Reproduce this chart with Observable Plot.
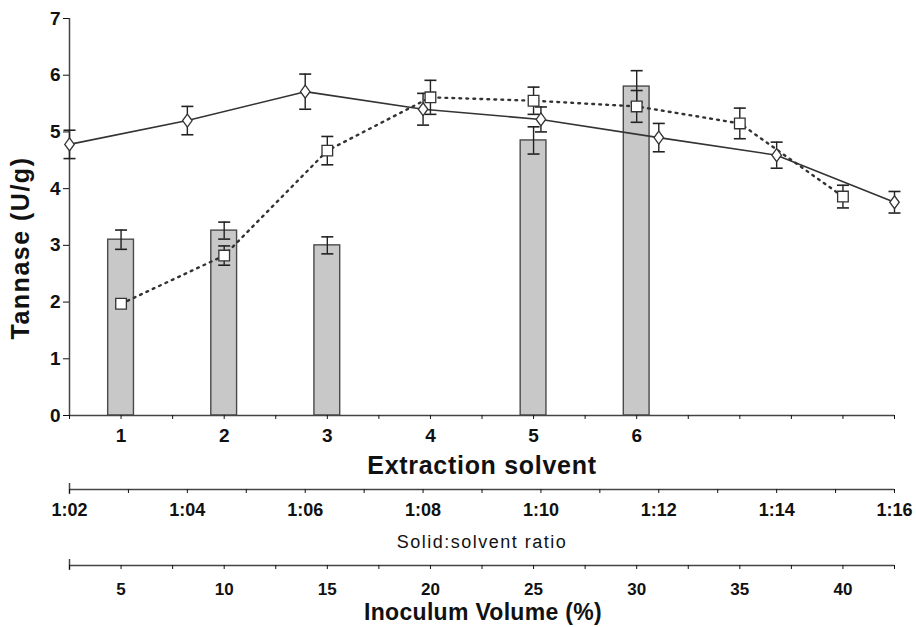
<!DOCTYPE html>
<html><head><meta charset="utf-8">
<script src="https://cdn.jsdelivr.net/npm/d3@7"></script>
<script src="https://cdn.jsdelivr.net/npm/@observablehq/plot@0.6"></script>
<style>
body{margin:0;background:#fff;}
#wrap{position:relative;width:916px;height:627px;overflow:hidden;background:#fff;}
.layer{position:absolute;left:0;}
.title{position:absolute;white-space:nowrap;line-height:1;color:#111;font-family:"Liberation Sans",Arial,sans-serif;transform:translate(-50%,-50%);}
</style></head><body>
<div id="wrap"></div>
<script>
// ---- data ----
const solventCats = [1, 2, 3, 4, 5, 6];
const solventTannase = [3.10, 3.26, 3.00, null, 4.85, 5.80];
const solventErr = [0.17, 0.15, 0.15, null, 0.24, 0.28];
const solventTickLabels = ["1", "2", "3", "4", "5", "6"];

const ratioVals = [2, 4, 6, 8, 10, 12, 14, 16];
const ratioTannase = [4.78, 5.20, 5.71, 5.40, 5.22, 4.90, 4.59, 3.76];
const ratioErr = [0.25, 0.25, 0.31, 0.28, 0.22, 0.25, 0.23, 0.19];
const ratioTickLabels = ["1:02", "1:04", "1:06", "1:08", "1:10", "1:12", "1:14", "1:16"];

const inocVals = [5, 10, 15, 20, 25, 30, 35, 40];
const inocTannase = [1.97, 2.82, 4.67, 5.61, 5.55, 5.45, 5.15, 3.86];
const inocErr = [0.05, 0.17, 0.25, 0.30, 0.24, 0.28, 0.27, 0.20];
const inocTickLabels = ["5", "10", "15", "20", "25", "30", "35", "40"];

const yTicks = [0, 1, 2, 3, 4, 5, 6, 7];

// ---- axis domains ----
const solventDomain = [0.5, 8.5];
const ratioDomain = [2, 16];
const inocDomain = [2.5, 42.5];

const FONT = "'Liberation Sans', Arial, sans-serif";
const W = 916, ML = 69, MR = 22;

// map a value of a secondary axis onto the primary (extraction solvent) axis
const toPrimary = (dom) => d3.scaleLinear().domain(dom).range(solventDomain);
const rMap = toPrimary(ratioDomain), iMap = toPrimary(inocDomain);

const bars = solventCats.map((c, i) => ({x: c, y: solventTannase[i], e: solventErr[i]})).filter(d => d.y != null);
const ratioPts = ratioVals.map((r, i) => ({x: rMap(r), y: ratioTannase[i], e: ratioErr[i]}));
const inocPts = inocVals.map((v, i) => ({x: iMap(v), y: inocTannase[i], e: inocErr[i]}));
const allErr = [...bars, ...ratioPts, ...inocPts];
const caps = allErr.flatMap(d => [{x: d.x, y: d.y - d.e}, {x: d.x, y: d.y + d.e}]);

const barHalf = 0.125;
const hcap = {draw(ctx, size) { const w = Math.sqrt(size / Math.PI); ctx.moveTo(-w, 0); ctx.lineTo(w, 0); }};
const diamondSym = {draw(ctx, size) { const r = Math.sqrt(size / Math.PI); const h = r * 1.3, w = r * 0.95;
  ctx.moveTo(0, -h); ctx.lineTo(w, 0); ctx.lineTo(0, h); ctx.lineTo(-w, 0); ctx.closePath(); }};

const solventLabelMap = new Map(solventCats.map((c, i) => [c, solventTickLabels[i]]));
const solventTicks = d3.range(solventDomain[0], solventDomain[1] + 0.01, 0.5);

const main = Plot.plot({
  width: W, height: 480, marginTop: 18, marginRight: MR, marginBottom: 65, marginLeft: ML,
  x: {domain: solventDomain},
  y: {domain: [0, 7]},
  style: {fontFamily: FONT, fontSize: "19px", fontWeight: "bold", color: "#111", background: "transparent", overflow: "visible"},
  marks: [
    Plot.rectY(bars, {x1: d => d.x - barHalf, x2: d => d.x + barHalf, y1: 0, y2: "y", fill: "#c8c8c8", stroke: "#4a4a4a", strokeWidth: 1.4}),
    Plot.ruleX([solventDomain[0]], {stroke: "#444", strokeWidth: 1.5}),
    Plot.ruleY([0], {stroke: "#444", strokeWidth: 1.5}),
    Plot.axisY({ticks: yTicks, tickSize: 6, tickPadding: 3, label: null, fontSize: 19, tickFormat: d => String(d)}),
    Plot.axisX({ticks: solventTicks, tickSize: 4, tickPadding: 9, label: null, fontSize: 19, tickFormat: d => solventLabelMap.get(d) ?? ""}),
    Plot.line(ratioPts, {x: "x", y: "y", stroke: "#333", strokeWidth: 1.6}),
    Plot.line(inocPts, {x: "x", y: "y", stroke: "#333", strokeWidth: 2.4, strokeDasharray: "1.8,5.2"}),
    Plot.ruleX(allErr, {x: "x", y1: d => d.y - d.e, y2: d => d.y + d.e, stroke: "#222", strokeWidth: 1.4}),
    Plot.dot(caps, {x: "x", y: "y", symbol: hcap, r: 6, stroke: "#222", strokeWidth: 1.6, fill: "none"}),
    Plot.dot(ratioPts, {x: "x", y: "y", symbol: diamondSym, r: 5, fill: "white", stroke: "#333", strokeWidth: 1.3}),
    Plot.dot(inocPts, {x: "x", y: "y", symbol: "square", r: 6, fill: "white", stroke: "#333", strokeWidth: 1.3})
  ]
});

function secondary(domain, ticks, fmt, fontSize, pad) {
  return Plot.plot({
    width: W, height: 60, marginTop: 0, marginBottom: 50, marginLeft: ML, marginRight: MR,
    x: {domain}, y: {domain: [0, 1], axis: null},
    style: {fontFamily: FONT, fontSize: fontSize + "px", fontWeight: "bold", color: "#111", background: "transparent", overflow: "visible"},
    marks: [
      Plot.ruleY([0], {stroke: "#444", strokeWidth: 1.5}),
      Plot.ruleX([domain[0]], {y1: -0.5, y2: 0.6, stroke: "#444", strokeWidth: 1.5}),
      Plot.axisX({ticks, tickSize: 4, tickPadding: pad, label: null, fontSize, tickFormat: fmt})
    ]
  });
}

const ratioLabelMap = new Map(ratioVals.map((r, i) => [r, ratioTickLabels[i]]));
const ratioPlot = secondary(ratioDomain, d3.range(ratioDomain[0], ratioDomain[1] + 0.01, 1), d => ratioLabelMap.get(d) ?? "", 18, 10);
const inocLabelMap = new Map(inocVals.map((v, i) => [v, inocTickLabels[i]]));
const inocPlot = secondary(inocDomain, d3.range(inocDomain[0], inocDomain[1] + 0.01, 2.5), d => inocLabelMap.get(d) ?? "", 17, 13);

const wrap = document.getElementById("wrap");
function place(node, top) { const d = document.createElement("div"); d.className = "layer"; d.style.top = top + "px"; d.appendChild(node); wrap.appendChild(d); }
place(main, 0);
place(ratioPlot, 479);
place(inocPlot, 555);

function title(text, x, y, size, weight, spacing, rotate) {
  const t = document.createElement("div");
  t.className = "title";
  t.textContent = text;
  t.style.left = x + "px"; t.style.top = y + "px";
  t.style.fontSize = size + "px"; t.style.fontWeight = weight; t.style.letterSpacing = spacing + "px";
  if (rotate) t.style.transform = "translate(-50%,-50%) rotate(-90deg)";
  wrap.appendChild(t);
}
title("Tannase (U/g)", 20, 248, 25, "bold", 1.5, true);
title("Extraction solvent", 482, 465, 25, "bold", 0.7, false);
title("Solid:solvent ratio", 482, 542, 18, "normal", 1.5, false);
title("Inoculum Volume (%)", 483, 612, 23, "bold", 0.3, false);
</script>
</body></html>
